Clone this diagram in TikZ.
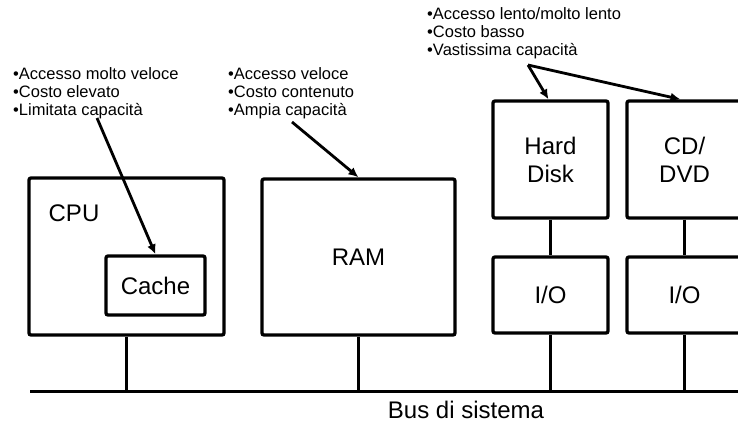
\documentclass[tikz,border=0pt]{standalone}
\usepackage{fontspec}
\setmainfont{Liberation Sans}
\usetikzlibrary{arrows.meta}

\begin{document}
\begin{tikzpicture}[x = 1pt, y = -1pt,
		box/.style 2 args = {draw, line width = 3.3pt, rounded corners = 2pt, inner sep = 0pt,
			minimum width = #1pt, minimum height = #2pt, align = center,
			font = \fontsize{24}{28}\selectfont},
		big/.style = {inner sep = 0pt, font = \fontsize{24}{28}\selectfont},
		info/.style = {inner sep = 0pt, anchor = base west, align = left,
			font = \fontsize{16.5}{18}\selectfont},
		wire/.style = {line width = 3pt},
		pointer/.style = {line width = 2.8pt, -{Latex[length = 10pt, width = 9pt]}}]
		\useasboundingbox (0, 0) rectangle (738, 424);
		\clip (0, 0) rectangle (738, 424);
		%%%%%%%%%%%%%
		\node [box = {195}{157}] (cpu) at (126.5, 256.5) {};
		\node [big] (cpulbl) at (74, 213) {CPU};
		\node [box = {99}{59}] (cache) at (155.5, 285.5) {Cache};
		\node [box = {193}{156}] (ram) at (358.5, 257) {RAM};
		\node [box = {115}{117}] (hd) at (550.5, 159.5) {Hard\\Disk};
		\node [box = {115}{117}] (cd) at (684.5, 159.5) {CD/\\DVD};
		\node [box = {115}{76}] (io1) at (550.5, 295) {I/O};
		\node [box = {115}{76}] (io2) at (684.5, 295) {I/O};
		%%%%%%%%%%%%%
		% the base anchor sits on the last line
		\node [info] (txtcpu) at (13, 115) {•Accesso molto veloce\\•Costo elevato\\•Limitata capacità};
		\node [info] (txtram) at (228, 115) {•Accesso veloce\\•Costo contenuto\\•Ampia capacità};
		\node [info] (txtmem) at (427, 55.5) {•Accesso lento/molto lento\\•Costo basso\\•Vastissima capacità};
		\coordinate (p1) at (97, 118);
		\coordinate (p2) at (292, 122);
		\coordinate (p3) at (528, 65);
		%%%%%%%%%%%%%
		\coordinate (busL) at (30, 391); \coordinate (busR) at (740, 391);
		\node [big] (buslbl) at (466, 410) {Bus di sistema};
		%%%%%%%%%%%%%
		\draw [wire] (busL) to (busR);
		\draw [wire] (cpu.south) to (cpu.south |- busL);
		\draw [wire] (ram.south) to (ram.south |- busL);
		\draw [wire] (io1.south) to (io1.south |- busL);
		\draw [wire] (io2.south) to (io2.south |- busL);
		\draw [wire] (hd) to (io1); \draw [wire] (cd) to (io2);
		%%%%%%%%%%%%%
		\draw [pointer] (p1) to (cache.north);
		\draw [pointer] (p2) to (ram.north);
		\draw [pointer] (p3) to ([xshift = -2pt] hd.north);
		\draw [pointer] (p3) to ([xshift = -4pt] cd.north);
\end{tikzpicture}
\end{document}
